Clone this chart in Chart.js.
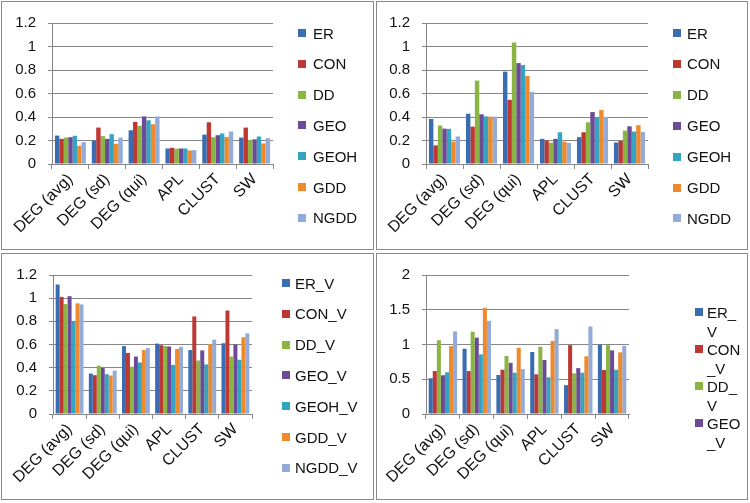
<!DOCTYPE html>
<html>
<head>
<meta charset="utf-8">
<script src="https://cdn.jsdelivr.net/npm/chart.js@4.4.0/dist/chart.umd.min.js"></script>
<style>
	body { margin: 0; background: #fff; width: 750px; height: 503px; overflow: hidden; font-family: "Liberation Sans", Arial, sans-serif; }
	.panel { position: absolute; border: 1px solid #8a8a8a; box-sizing: border-box; }
	.panel canvas { position: absolute; left: 0; top: 0; }
	.item { position: absolute; white-space: pre; font-size: 15px; line-height: 19px; color: #111; }
	.sw { position: absolute; width: 8px; height: 8px; }
</style>
</head>
<body>
<div class="panel" style="left:1px;top:1px;width:373px;height:249px"><canvas id="c1" width="371" height="247"></canvas></div>
<div class="panel" style="left:376px;top:1px;width:372px;height:249px"><canvas id="c2" width="370" height="247"></canvas></div>
<div class="panel" style="left:1px;top:253px;width:373px;height:247px"><canvas id="c3" width="371" height="245"></canvas></div>
<div class="panel" style="left:376px;top:253px;width:372px;height:247px"><canvas id="c4" width="370" height="245"></canvas></div>
<div id="legends"></div>

<script>
// categories on the x axis
var categories = ['DEG (avg)', 'DEG (sd)', 'DEG (qui)', 'APL', 'CLUST', 'SW'];

var names = ['ER', 'CON', 'DD', 'GEO', 'GEOH', 'GDD', 'NGDD'];
var namesV = ['ER_V', 'CON_V', 'DD_V', 'GEO_V', 'GEOH_V', 'GDD_V', 'NGDD_V'];
// the bottom right legend is wrapped and cut off in the original
var legendV4 = ['ER_\nV', 'CON\n_V', 'DD_\nV', 'GEO\n_V'];

var colors = ['#3a6cb2', '#be3833', '#8ab443', '#6b4b98', '#33a4c1', '#ef8a2c', '#92abd9'];

// top left
var p1ER   = [0.242, 0.200, 0.287, 0.132, 0.250, 0.225];
var p1CON  = [0.214, 0.310, 0.358, 0.138, 0.355, 0.310];
var p1DD   = [0.225, 0.237, 0.324, 0.130, 0.228, 0.203];
var p1GEO  = [0.228, 0.214, 0.405, 0.132, 0.245, 0.210];
var p1GEOH = [0.240, 0.254, 0.372, 0.132, 0.260, 0.234];
var p1GDD  = [0.155, 0.172, 0.338, 0.115, 0.230, 0.175];
var p1NGDD = [0.186, 0.225, 0.405, 0.118, 0.276, 0.220];

// top right
var p2ER   = [0.383, 0.428, 0.786, 0.214, 0.228, 0.183];
var p2CON  = [0.158, 0.318, 0.546, 0.200, 0.270, 0.197];
var p2DD   = [0.327, 0.710, 1.034, 0.183, 0.355, 0.284];
var p2GEO  = [0.301, 0.423, 0.859, 0.214, 0.442, 0.321];
var p2GEOH = [0.299, 0.405, 0.842, 0.270, 0.397, 0.276];
var p2GDD  = [0.190, 0.403, 0.749, 0.190, 0.459, 0.330];
var p2NGDD = [0.234, 0.403, 0.614, 0.180, 0.400, 0.273];

// bottom left
var p3ER   = [1.118, 0.349, 0.586, 0.608, 0.552, 0.611];
var p3CON  = [1.011, 0.335, 0.527, 0.594, 0.842, 0.893];
var p3DD   = [0.949, 0.417, 0.408, 0.586, 0.462, 0.496];
var p3GEO  = [1.017, 0.397, 0.496, 0.583, 0.549, 0.600];
var p3GEOH = [0.800, 0.344, 0.445, 0.423, 0.428, 0.468];
var p3GDD  = [0.955, 0.332, 0.552, 0.561, 0.603, 0.662];
var p3NGDD = [0.946, 0.375, 0.569, 0.580, 0.642, 0.696];

// bottom right
var p4ER   = [0.514, 0.939, 0.561, 0.892, 0.415, 1.000];
var p4CON  = [0.618, 0.618, 0.637, 0.571, 0.991, 0.632];
var p4DD   = [1.061, 1.184, 0.835, 0.967, 0.585, 0.991];
var p4GEO  = [0.557, 1.099, 0.736, 0.778, 0.660, 0.915];
var p4GEOH = [0.600, 0.858, 0.594, 0.528, 0.594, 0.637];
var p4GDD  = [0.976, 1.528, 0.953, 1.052, 0.830, 0.887];
var p4NGDD = [1.189, 1.340, 0.646, 1.222, 1.259, 0.981];

var gridColor = '#878787';
var yFont = { family: '"Liberation Sans", Arial, sans-serif', size: 15 };
var xFont = { family: '"Liberation Sans", Arial, sans-serif', size: 16 };

function makeChart(id, labels, series, yMax, yStep, box) {
	var datasets = series.map(function(values, i) {
		return {
			label: labels[i],
			data: values,
			backgroundColor: colors[i],
			categoryPercentage: 0.84,
			barPercentage: 1
		};
	});

	new Chart(document.getElementById(id).getContext('2d'), {
		type: 'bar',
		data: { labels: categories, datasets: datasets },
		options: {
			responsive: false,
			animation: false,
			devicePixelRatio: 1,
			layout: { padding: { top: box.top, right: box.right, left: 0, bottom: 0 } },
			plugins: { legend: { display: false }, tooltip: { enabled: false } },
			scales: {
				x: {
					grid: { offset: true, drawOnChartArea: false, tickLength: 5, color: gridColor },
					border: { color: gridColor },
					ticks: { color: '#111', font: xFont, minRotation: 45, maxRotation: 45, autoSkip: false, padding: 1 },
					afterFit: function(scale) { scale.height = box.xHeight; }
				},
				y: {
					min: 0,
					max: yMax,
					grid: { tickLength: 4, color: gridColor },
					border: { color: gridColor },
					ticks: {
						stepSize: yStep,
						color: '#111',
						font: yFont,
						padding: 12,
						callback: function(v) { return String(Math.round(v * 10) / 10); }
					},
					afterFit: function(scale) { scale.width = box.yWidth; }
				}
			}
		}
	});
}

makeChart('c1', names, [p1ER, p1CON, p1DD, p1GEO, p1GEOH, p1GDD, p1NGDD], 1.2, 0.2,
	{ top: 21, right: 100, xHeight: 85, yWidth: 50 });
makeChart('c2', names, [p2ER, p2CON, p2DD, p2GEO, p2GEOH, p2GDD, p2NGDD], 1.2, 0.2,
	{ top: 21, right: 99, xHeight: 85, yWidth: 49 });
makeChart('c3', namesV, [p3ER, p3CON, p3DD, p3GEO, p3GEOH, p3GDD, p3NGDD], 1.2, 0.2,
	{ top: 19, right: 121, xHeight: 85, yWidth: 51 });
makeChart('c4', namesV, [p4ER, p4CON, p4DD, p4GEO, p4GEOH, p4GDD, p4NGDD], 2, 0.5,
	{ top: 19, right: 118, xHeight: 85, yWidth: 49 });

// html legends on the right of each panel
function addLegend(labels, swX, textX, y0, step) {
	var host = document.getElementById('legends');
	labels.forEach(function(text, i) {
		var cy = y0 + step * i;
		var sw = document.createElement('div');
		sw.className = 'sw';
		sw.style.left = swX + 'px';
		sw.style.top = (cy - 4) + 'px';
		sw.style.background = colors[i];
		host.appendChild(sw);
		var t = document.createElement('div');
		t.className = 'item';
		t.style.left = textX + 'px';
		t.style.top = (cy - 9.5) + 'px';
		t.textContent = text;
		host.appendChild(t);
	});
}

addLegend(names, 298, 313, 33, 30.8);
addLegend(names, 673, 687, 33, 30.9);
addLegend(namesV, 282, 295, 283, 30.8);
addLegend(legendV4, 695, 707, 312, 37);
</script>
</body>
</html>
